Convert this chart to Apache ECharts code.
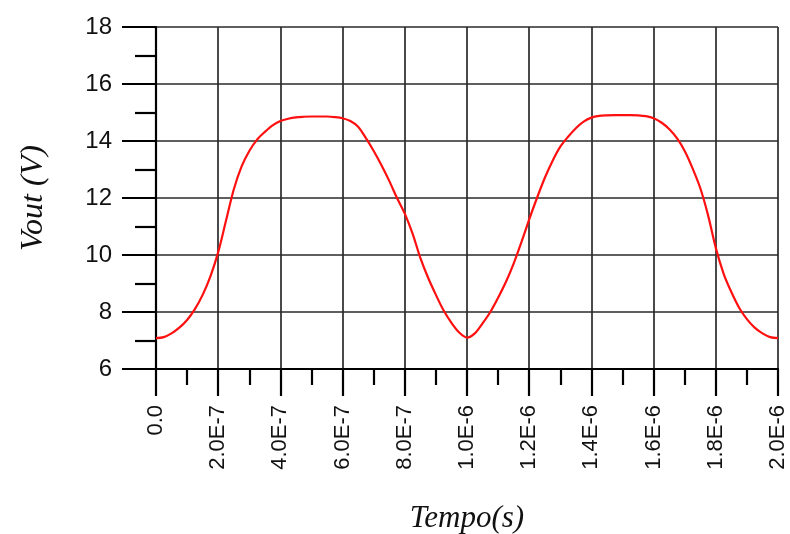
<!DOCTYPE html>
<html>
<head>
<meta charset="utf-8">
<script src="https://cdn.jsdelivr.net/npm/echarts@6/dist/echarts.min.js"></script>
<style>html,body{margin:0;padding:0;background:#fff;}#c{width:790px;height:534px;}</style>
</head>
<body>
<div id="c"></div>
<script>
// time in units of 1e-7 s, step 0.25
var timeVals = [0,0.25,0.5,0.75,1,1.25,1.5,1.75,2,2.25,2.5,2.75,3,3.25,3.5,3.75,4,4.25,4.5,4.75,5,5.25,5.5,5.75,6,6.25,6.5,6.75,7,7.25,7.5,7.75,8,8.25,8.5,8.75,9,9.25,9.5,9.75,10,10.25,10.5,10.75,11,11.25,11.5,11.75,12,12.25,12.5,12.75,13,13.25,13.5,13.75,14,14.25,14.5,14.75,15,15.25,15.5,15.75,16,16.25,16.5,16.75,17,17.25,17.5,17.75,18,18.25,18.5,18.75,19,19.25,19.5,19.75,20];
var voutVals = [7.08,7.12,7.25,7.45,7.72,8.1,8.6,9.25,10.1,11.2,12.3,13.1,13.65,14.05,14.32,14.55,14.7,14.78,14.83,14.85,14.86,14.86,14.86,14.84,14.8,14.7,14.5,14.1,13.65,13.15,12.6,12.0,11.45,10.75,9.9,9.2,8.6,8.05,7.62,7.28,7.1,7.25,7.6,8.0,8.5,9.05,9.7,10.45,11.25,12.0,12.7,13.3,13.8,14.15,14.45,14.68,14.82,14.88,14.9,14.91,14.91,14.91,14.9,14.87,14.8,14.65,14.42,14.1,13.65,13.05,12.35,11.4,10.25,9.35,8.7,8.15,7.75,7.45,7.25,7.12,7.08];
var xTickLabels = ['0.0','2.0E-7','4.0E-7','6.0E-7','8.0E-7','1.0E-6','1.2E-6','1.4E-6','1.6E-6','1.8E-6','2.0E-6'];
var yTickLabels = ['6','8','10','12','14','16','18'];

var chart = echarts.init(document.getElementById('c'), null, {renderer:'canvas'});
var data = timeVals.map(function(t,i){return [t, voutVals[i]];});
chart.setOption({
  animation:false,
  backgroundColor:'#fff',
  grid:{left:156, right:12, top:27, bottom:165, containLabel:false, outerBoundsMode:'none'},
  xAxis:{
    type:'value', min:0, max:20, interval:2,
    name:'Tempo(s)', nameLocation:'middle', nameGap:134,
    nameTextStyle:{fontFamily:'Liberation Serif', fontStyle:'italic', fontSize:31, color:'#111'},
    axisLine:{show:true, onZero:false, lineStyle:{color:'#000', width:2.2}},
    axisTick:{show:true, length:27, lineStyle:{color:'#000', width:2.2}},
    minorTick:{show:true, splitNumber:2, length:16, lineStyle:{color:'#000', width:2.2}},
    splitLine:{show:true, lineStyle:{color:'#2a2a2a', width:1.7}},
    axisLabel:{rotate:90, margin:36, fontFamily:'Liberation Sans', fontSize:22, color:'#111',
      formatter:function(v){return xTickLabels[Math.round(v/2)];}}
  },
  yAxis:{
    type:'value', min:6, max:18, interval:2,
    name:'Vout (V)', nameLocation:'middle', nameGap:106,
    nameTextStyle:{fontFamily:'Liberation Serif', fontStyle:'italic', fontSize:32, color:'#111'},
    axisLine:{show:true, onZero:false, lineStyle:{color:'#000', width:2.2}},
    axisTick:{show:true, length:34, lineStyle:{color:'#000', width:2.2}},
    minorTick:{show:true, splitNumber:2, length:21, lineStyle:{color:'#000', width:2.2}},
    splitLine:{show:true, lineStyle:{color:'#2a2a2a', width:1.7}},
    axisLabel:{margin:44, fontFamily:'Liberation Sans', fontSize:24, color:'#111',
      formatter:function(v){return yTickLabels[Math.round((v-6)/2)];}}
  },
  series:[{
    type:'line', data:data, smooth:0.3, showSymbol:false,
    lineStyle:{color:'#ff1010', width:2.2}
  }]
});
</script>
</body>
</html>
